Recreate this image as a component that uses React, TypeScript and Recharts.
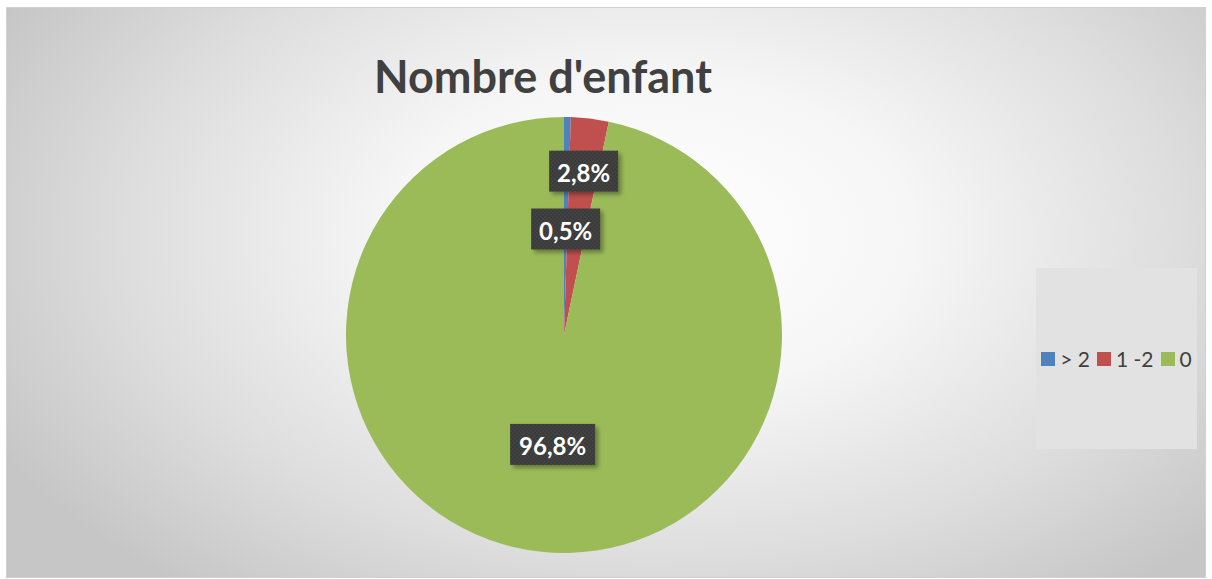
import { PieChart, Pie, Cell, Legend } from "recharts";

const categories = ["> 2", "1 -2", "0"];
const shares = [0.5, 2.8, 96.8];
const colors = ["#4f81bd", "#c0504d", "#9bbb59"];
// distance of each data label from the pie centre (Excel "best fit")
const labelRadius = [106, 165, 110];

const data = categories.map((name, i) => ({ name, value: shares[i] }));

const RAD = Math.PI / 180;

function DataLabel(props: any) {
  const { cx, cy, midAngle, index, value } = props;
  const r = labelRadius[index];
  const x = cx + r * Math.cos(-midAngle * RAD);
  const y = cy + r * Math.sin(-midAngle * RAD);
  const text = value.toFixed(1).replace(".", ",") + "%";
  const w = text.length > 4 ? 85 : 69;
  const h = 41;
  return (
    <g>
      <rect
        x={x - w / 2}
        y={y - h / 2}
        width={w}
        height={h}
        fill="url(#dots)"
        filter="url(#shadow)"
      />
      <text
        x={x}
        y={y + 1}
        textAnchor="middle"
        dominantBaseline="central"
        fill="#ffffff"
        fontFamily="Lato, 'Open Sans', sans-serif"
        fontWeight={700}
        fontSize={24}
      >
        {text}
      </text>
    </g>
  );
}

function LegendBox() {
  return (
    <div
      style={{
        width: 161,
        height: 181,
        background: "#e2e2e2",
        display: "flex",
        alignItems: "center",
        justifyContent: "center",
        fontFamily: "Lato, 'Open Sans', sans-serif",
        fontSize: 21,
        color: "#404040",
        gap: 7,
        paddingTop: 0,
        boxSizing: "border-box",
      }}
    >
      {categories.map((c, i) => (
        <span key={c} style={{ display: "flex", alignItems: "center", gap: 5 }}>
          <span style={{ width: 14, height: 14, background: colors[i], display: "inline-block" }} />
          {c}
        </span>
      ))}
    </div>
  );
}

export default function App() {
  return (
    <div
      style={{
        position: "absolute",
        left: 0,
        top: 0,
        width: 1212,
        height: 579,
        background: "#ffffff",
      }}
    >
      <div
        style={{
          position: "absolute",
          left: 6,
          top: 7,
          width: 1198,
          height: 569,
          border: "1px solid #d0d0d0",
          background:
            "radial-gradient(ellipse 62% 80% at 54% 40%, #ffffff 0%, #f6f6f6 35%, #dedede 70%, #c6c6c6 100%)",
        }}
      />
      <div
        style={{
          position: "absolute",
          left: 0,
          top: 46,
          width: 1086,
          textAlign: "center",
          fontFamily: "Lato, 'Open Sans', sans-serif",
          fontWeight: 700,
          fontSize: 45,
          color: "#404040",
          lineHeight: "60px",
        }}
      >
        Nombre d'enfant
      </div>
      <div style={{ position: "absolute", left: 0, top: 0 }}>
        <PieChart width={1212} height={579} margin={{ top: 0, right: 0, bottom: 0, left: 0 }}>
          <defs>
            <pattern id="dots" width="4" height="4" patternUnits="userSpaceOnUse">
              <rect width="4" height="4" fill="#3b3b3b" />
              <circle cx="1" cy="1" r="0.8" fill="#4a4a4a" />
              <circle cx="3" cy="3" r="0.8" fill="#4a4a4a" />
            </pattern>
            <filter id="shadow" x="-20%" y="-20%" width="150%" height="160%">
              <feDropShadow dx="3" dy="3" stdDeviation="2" floodColor="#000" floodOpacity="0.35" />
            </filter>
          </defs>
          <Pie
            data={data}
            dataKey="value"
            nameKey="name"
            cx={564}
            cy={335}
            outerRadius={218}
            startAngle={90}
            endAngle={-270}
            stroke="none"
            label={DataLabel}
            labelLine={false}
            isAnimationActive={false}
          >
            {data.map((d, i) => (
              <Cell key={d.name} fill={colors[i]} />
            ))}
          </Pie>
          <Legend
            content={() => <LegendBox />}
            wrapperStyle={{ position: "absolute", left: 1036, top: 268, width: 161, height: 181 }}
          />
        </PieChart>
      </div>
    </div>
  );
}
